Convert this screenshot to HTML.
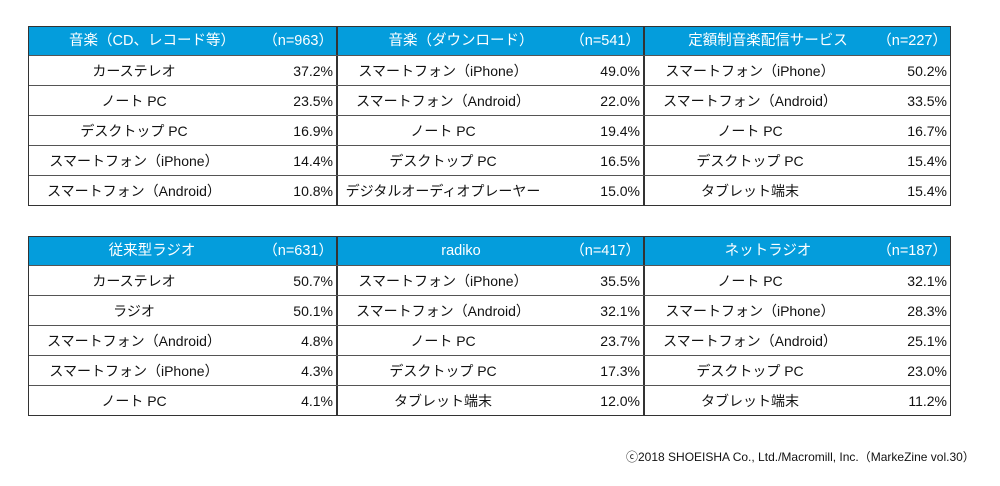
<!DOCTYPE html>
<html><head><meta charset="utf-8"><style>
body{margin:0;width:1000px;height:486px;background:#fff;position:relative;font-family:"Liberation Sans","Noto Sans CJK JP",sans-serif;color:#111;overflow:hidden}
.t{position:absolute;left:28px;width:923px;border:1.5px solid #333;box-sizing:border-box}
.r{position:relative;height:30px;border-top:1px solid #555;display:flex;box-sizing:border-box}
.r:first-child{border-top:none;height:28px;background:#049ddc;color:#fff}
.c{position:relative;width:308px;border-left:2px solid #333;box-sizing:border-box;font-size:14px}
.c:first-child{border-left:none}
.l{position:absolute;left:0;width:210px;text-align:center;top:1px;line-height:29px}
.h .l{width:246px;font-size:14.5px;line-height:28px;top:0}
.v{position:absolute;right:3px;top:1px;line-height:29px}
.h .v{font-size:14.5px;line-height:28px;top:0}
.foot{position:absolute;left:626px;top:448px;font-size:12px}
</style></head><body>
<div class="t" style="top:26px">
<div class="r"><div class="c h"><span class="l">音楽（CD、レコード等）</span><span class="v">（n=963）</span></div><div class="c h"><span class="l">音楽（ダウンロード）</span><span class="v">（n=541）</span></div><div class="c h"><span class="l">定額制音楽配信サービス</span><span class="v">（n=227）</span></div></div>
<div class="r"><div class="c"><span class="l">カーステレオ</span><span class="v">37.2%</span></div><div class="c"><span class="l">スマートフォン（iPhone）</span><span class="v">49.0%</span></div><div class="c"><span class="l">スマートフォン（iPhone）</span><span class="v">50.2%</span></div></div>
<div class="r"><div class="c"><span class="l">ノート PC</span><span class="v">23.5%</span></div><div class="c"><span class="l">スマートフォン（Android）</span><span class="v">22.0%</span></div><div class="c"><span class="l">スマートフォン（Android）</span><span class="v">33.5%</span></div></div>
<div class="r"><div class="c"><span class="l">デスクトップ PC</span><span class="v">16.9%</span></div><div class="c"><span class="l">ノート PC</span><span class="v">19.4%</span></div><div class="c"><span class="l">ノート PC</span><span class="v">16.7%</span></div></div>
<div class="r"><div class="c"><span class="l">スマートフォン（iPhone）</span><span class="v">14.4%</span></div><div class="c"><span class="l">デスクトップ PC</span><span class="v">16.5%</span></div><div class="c"><span class="l">デスクトップ PC</span><span class="v">15.4%</span></div></div>
<div class="r"><div class="c"><span class="l">スマートフォン（Android）</span><span class="v">10.8%</span></div><div class="c"><span class="l">デジタルオーディオプレーヤー</span><span class="v">15.0%</span></div><div class="c"><span class="l">タブレット端末</span><span class="v">15.4%</span></div></div>
</div>
<div class="t" style="top:236px">
<div class="r"><div class="c h"><span class="l">従来型ラジオ</span><span class="v">（n=631）</span></div><div class="c h"><span class="l">radiko</span><span class="v">（n=417）</span></div><div class="c h"><span class="l">ネットラジオ</span><span class="v">（n=187）</span></div></div>
<div class="r"><div class="c"><span class="l">カーステレオ</span><span class="v">50.7%</span></div><div class="c"><span class="l">スマートフォン（iPhone）</span><span class="v">35.5%</span></div><div class="c"><span class="l">ノート PC</span><span class="v">32.1%</span></div></div>
<div class="r"><div class="c"><span class="l">ラジオ</span><span class="v">50.1%</span></div><div class="c"><span class="l">スマートフォン（Android）</span><span class="v">32.1%</span></div><div class="c"><span class="l">スマートフォン（iPhone）</span><span class="v">28.3%</span></div></div>
<div class="r"><div class="c"><span class="l">スマートフォン（Android）</span><span class="v">4.8%</span></div><div class="c"><span class="l">ノート PC</span><span class="v">23.7%</span></div><div class="c"><span class="l">スマートフォン（Android）</span><span class="v">25.1%</span></div></div>
<div class="r"><div class="c"><span class="l">スマートフォン（iPhone）</span><span class="v">4.3%</span></div><div class="c"><span class="l">デスクトップ PC</span><span class="v">17.3%</span></div><div class="c"><span class="l">デスクトップ PC</span><span class="v">23.0%</span></div></div>
<div class="r"><div class="c"><span class="l">ノート PC</span><span class="v">4.1%</span></div><div class="c"><span class="l">タブレット端末</span><span class="v">12.0%</span></div><div class="c"><span class="l">タブレット端末</span><span class="v">11.2%</span></div></div>
</div>
<div class="foot">ⓒ2018 SHOEISHA Co., Ltd./Macromill, Inc.（MarkeZine vol.30）</div>
</body></html>
